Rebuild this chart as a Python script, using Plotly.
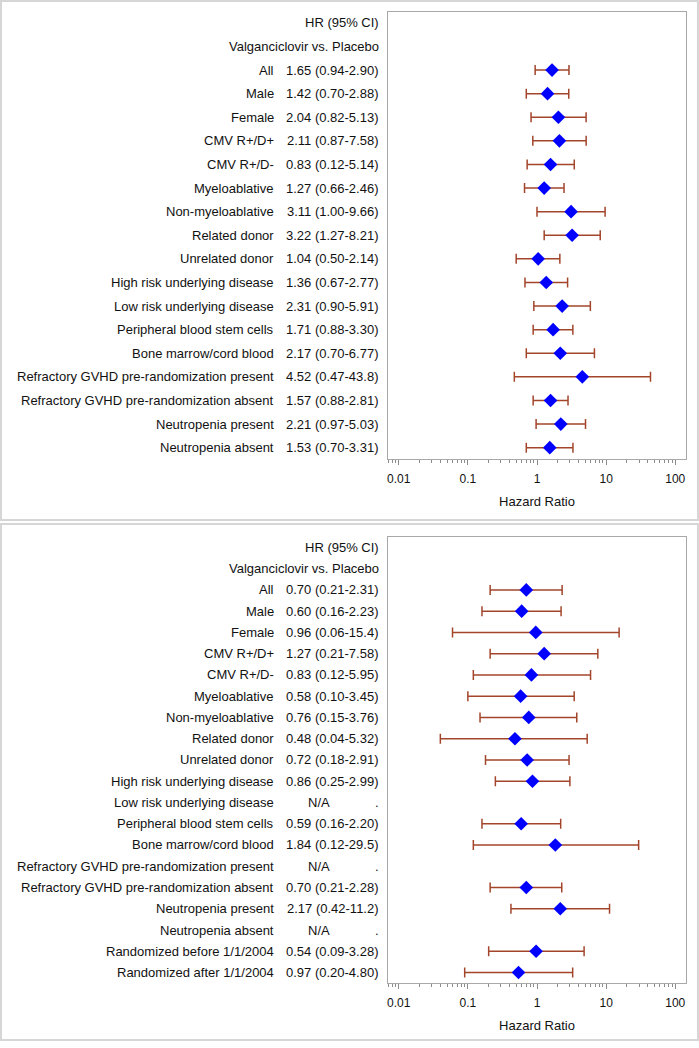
import numpy as np
import plotly.graph_objects as go

# ---------------- data ----------------
tick_vals = [0.01, 0.1, 1, 10, 100]
tick_text = ["0.01", "0.1", "1", "10", "100"]
header_rows = ["HR (95% CI)", "Valganciclovir vs. Placebo"]

labels_top = ["All", "Male", "Female", "CMV R+/D+", "CMV R+/D-", "Myeloablative",
              "Non-myeloablative", "Related donor", "Unrelated donor",
              "High risk underlying disease", "Low risk underlying disease",
              "Peripheral blood stem cells", "Bone marrow/cord blood",
              "Refractory GVHD pre-randomization present",
              "Refractory GVHD pre-randomization absent",
              "Neutropenia present", "Neutropenia absent"]
hrtext_top = ["1.65 (0.94-2.90)", "1.42 (0.70-2.88)", "2.04 (0.82-5.13)", "2.11 (0.87-7.58)",
              "0.83 (0.12-5.14)", "1.27 (0.66-2.46)", "3.11 (1.00-9.66)", "3.22 (1.27-8.21)",
              "1.04 (0.50-2.14)", "1.36 (0.67-2.77)", "2.31 (0.90-5.91)", "1.71 (0.88-3.30)",
              "2.17 (0.70-6.77)", "4.52 (0.47-43.8)", "1.57 (0.88-2.81)", "2.21 (0.97-5.03)",
              "1.53 (0.70-3.31)"]
hr_top = [1.65, 1.42, 2.04, 2.11, 1.57, 1.27, 3.11, 3.22, 1.04, 1.36, 2.31, 1.71, 2.17, 4.52, 1.57, 2.21, 1.53]
lo_top = [0.94, 0.70, 0.82, 0.87, 0.72, 0.66, 1.00, 1.27, 0.50, 0.67, 0.90, 0.88, 0.70, 0.47, 0.88, 0.97, 0.70]
hi_top = [2.90, 2.88, 5.13, 5.14, 3.46, 2.46, 9.66, 8.21, 2.14, 2.77, 5.91, 3.30, 6.77, 43.8, 2.81, 5.03, 3.31]

labels_bot = ["All", "Male", "Female", "CMV R+/D+", "CMV R+/D-", "Myeloablative",
              "Non-myeloablative", "Related donor", "Unrelated donor",
              "High risk underlying disease", "Low risk underlying disease",
              "Peripheral blood stem cells", "Bone marrow/cord blood",
              "Refractory GVHD pre-randomization present",
              "Refractory GVHD pre-randomization absent",
              "Neutropenia present", "Neutropenia absent",
              "Randomized before 1/1/2004", "Randomized after 1/1/2004"]
hrtext_bot = ["0.70 (0.21-2.31)", "0.60 (0.16-2.23)", "0.96 (0.06-15.4)", "1.27 (0.21-7.58)",
              "0.83 (0.12-5.95)", "0.58 (0.10-3.45)", "0.76 (0.15-3.76)", "0.48 (0.04-5.32)",
              "0.72 (0.18-2.91)", "0.86 (0.25-2.99)", None, "0.59 (0.16-2.20)",
              "1.84 (0.12-29.5)", None, "0.70 (0.21-2.28)", "2.17 (0.42-11.2)", None,
              "0.54 (0.09-3.28)", "0.97 (0.20-4.80)"]
hr_bot = [0.70, 0.60, 0.96, 1.27, 0.83, 0.58, 0.76, 0.48, 0.72, 0.86, None, 0.59, 1.84, None, 0.70, 2.17, None, 0.97, 0.54]
lo_bot = [0.21, 0.16, 0.06, 0.21, 0.12, 0.10, 0.15, 0.04, 0.18, 0.25, None, 0.16, 0.12, None, 0.21, 0.42, None, 0.20, 0.09]
hi_bot = [2.31, 2.23, 15.4, 7.58, 5.95, 3.45, 3.76, 5.32, 2.91, 2.99, None, 2.20, 29.5, None, 2.28, 11.2, None, 4.80, 3.28]

# ---------------- style ----------------
W, H = 699, 1048
FONT = "Liberation Sans, Arial, sans-serif"
TXT = "#111111"
ERR = "#A3452B"
BLUE = "#0000FF"
BOXC = "#A8A8A8"
FRAME = "#D6D6D6"


def fx(p):
    return p / W


def fy(p):
    return 1 - p / H


fig = go.Figure()


def arr(v):
    return np.array([np.nan if a is None else a for a in v], dtype=float)


def add_panel(xa, ya, labels, hrtext, hr, lo, hi):
    hr, lo, hi = arr(hr), arr(lo), arr(hi)
    rows = np.arange(len(labels)) + len(header_rows)
    fig.add_trace(go.Scatter(
        x=hr, y=rows, mode="markers", xaxis=xa, yaxis=ya,
        marker=dict(symbol="diamond", size=10.5, color=BLUE, line=dict(width=0)),
        error_x=dict(type="data", symmetric=False, array=hi - hr, arrayminus=hr - lo,
                     color=ERR, thickness=1.5, width=5),
        showlegend=False, hoverinfo="skip"))
    yref = "y" if ya == "y" else "y2"
    for i, h in enumerate(header_rows):
        fig.add_annotation(x=fx(381), y=i, xref="paper", yref=yref, text=h,
                           showarrow=False, xanchor="right", yanchor="middle",
                           font=dict(size=13, color=TXT, family=FONT))
    for i, (lab, t) in enumerate(zip(labels, hrtext)):
        r = rows[i]
        fig.add_annotation(x=fx(276), y=r, xref="paper", yref=yref, text=lab,
                           showarrow=False, xanchor="right", yanchor="middle",
                           font=dict(size=13, color=TXT, family=FONT))
        if t is None:
            fig.add_annotation(x=fx(319), y=r, xref="paper", yref=yref, text="N/A",
                               showarrow=False, xanchor="center", yanchor="middle",
                               font=dict(size=13, color=TXT, family=FONT))
            fig.add_annotation(x=fx(381), y=r, xref="paper", yref=yref, text=".",
                               showarrow=False, xanchor="right", yanchor="middle",
                               font=dict(size=13, color=TXT, family=FONT))
        else:
            fig.add_annotation(x=fx(381), y=r, xref="paper", yref=yref, text=t,
                               showarrow=False, xanchor="right", yanchor="middle",
                               font=dict(size=13, color=TXT, family=FONT))
    # reference line at HR = 1 (log axis -> shape coords in log10)
    fig.add_shape(type="line", xref=xa, yref=ya + " domain", x0=np.log10(1), x1=np.log10(1),
                  y0=0, y1=1, line=dict(color="#9A9A9A", width=1, dash="4px,3px"), layer="below")


add_panel("x", "y", labels_top, hrtext_top, hr_top, lo_top, hi_top)
add_panel("x2", "y2", labels_bot, hrtext_bot, hr_bot, lo_bot, hi_bot)

minor_vals = [k * 10.0 ** e for e in range(-3, 3) for k in range(2, 10)]

xcommon = dict(type="log", range=[-2.155, 2.155], domain=[fx(388), fx(686)],
               tickmode="array", tickvals=tick_vals, ticktext=tick_text,
               ticks="outside", ticklen=5, tickwidth=1, tickcolor="#8C8C8C",
               minor=dict(tickmode="array", tickvals=minor_vals, ticks="outside",
                          ticklen=3, tickwidth=1, tickcolor="#8C8C8C", showgrid=False),
               ticklabelstandoff=4,
               tickfont=dict(size=12, color=TXT, family=FONT),
               title=dict(text="Hazard Ratio", font=dict(size=13, color=TXT, family=FONT), standoff=11),
               showline=True, mirror=True, linecolor=BOXC, linewidth=1,
               showgrid=False, zeroline=False, fixedrange=True)
ycommon = dict(showticklabels=False, ticks="", showline=True, mirror=True,
               linecolor=BOXC, linewidth=1, showgrid=False, zeroline=False, fixedrange=True)

n_top = len(labels_top) + len(header_rows)
n_bot = len(labels_bot) + len(header_rows)

fig.update_layout(
    width=W, height=H, margin=dict(l=0, r=0, t=0, b=0),
    paper_bgcolor="white", plot_bgcolor="white",
    font=dict(family=FONT, color=TXT),
    xaxis=dict(xcommon, anchor="y"),
    yaxis=dict(ycommon, anchor="x", domain=[fy(459), fy(12)],
               range=[n_top - 1 + 0.48, -0.46]),
    xaxis2=dict(xcommon, anchor="y2"),
    yaxis2=dict(ycommon, anchor="x2", domain=[fy(982.5), fy(537)],
                range=[n_bot - 1 + 0.47, -0.49]),
)

# panel frames
fig.add_shape(type="rect", xref="paper", yref="paper", x0=fx(1), x1=fx(698),
              y0=fy(520), y1=fy(1), line=dict(color=FRAME, width=2), layer="below")
fig.add_shape(type="rect", xref="paper", yref="paper", x0=fx(1), x1=fx(698),
              y0=fy(1040), y1=fy(524), line=dict(color=FRAME, width=2), layer="below")

fig.write_html("out.html", include_plotlyjs=True, config={"displayModeBar": False},
               post_script="document.body.style.margin='0';document.body.style.overflow='hidden';")
